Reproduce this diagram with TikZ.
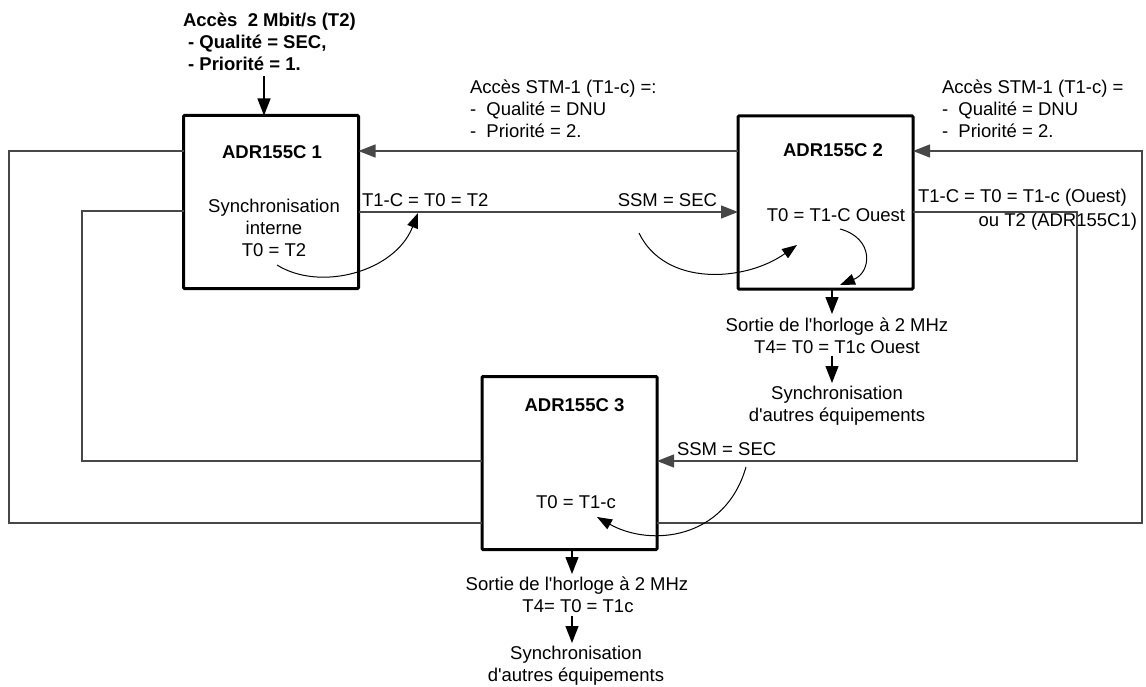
\documentclass[tikz,border=0pt]{standalone}
\usepackage{fontspec}
\setmainfont{Liberation Sans}[Ligatures=TeXOff]
\usetikzlibrary{arrows.meta}
\begin{document}
\begin{tikzpicture}[x=1pt,y=-1pt,
  every node/.style={inner sep=0pt, outer sep=0pt, font=\fontsize{18.5}{22}\selectfont},
  box/.style={draw, line width=3pt, rounded corners=1pt, minimum width=175pt, minimum height=173pt},
  conn/.style={draw=black!72, line width=1.3pt},
  arr/.style={-{Triangle[length=17pt,width=13pt]}},
  curv/.style={draw=black, line width=1pt, -{Triangle[length=15pt,width=11pt]}},
  lb/.style={anchor=base},
  lbw/.style={anchor=base west},
  lbe/.style={anchor=base east},
  bold/.style={font=\fontsize{18.5}{22}\selectfont\bfseries}
]
\useasboundingbox (0,0) rectangle (1146,687);

% boxes
\node[box] (b1) at (271,202) {};
\node[box] (b2) at (825.5,202.5) {};
\node[box] (b3) at (569.5,463) {};

% box texts
\node[lb,bold] (b1t) at (272,159) {ADR155C 1};
\node[lb] (b1s1) at (274,213) {Synchronisation};
\node[lb] (b1s2) at (274,235) {interne};
\node[lb] (b1s3) at (274,257) {T0 = T2};
\node[lb,bold] (b2t) at (833,157) {ADR155C 2};
\node[lb] (b2s) at (836,222) {T0 = T1-C Ouest};
\node[lb,bold] (b3t) at (574.5,411) {ADR155C 3};
\node[lb] (b3s) at (576,508) {T0 = T1-c};

% top-left access text
\node[lbw,bold] (t2a) at (183,27) {Accès\ \ 2 Mbit/s (T2)};
\node[lbw,bold] (t2b) at (183,49) {\ - Qualité = SEC,};
\node[lbw,bold] (t2c) at (183,71) {\ - Priorité = 1.};

% STM-1 texts
\node[lbw] (s1a) at (470,94) {Accès STM-1 (T1-c) =:};
\node[lbw] (s1b) at (470,116) {-\ \ Qualité = DNU};
\node[lbw] (s1c) at (470,138) {-\ \ Priorité = 2.};
\node[lbw] (s2a) at (942,94) {Accès STM-1 (T1-c) =};
\node[lbw] (s2b) at (942,116) {-\ \ Qualité = DNU};
\node[lbw] (s2c) at (942,138) {-\ \ Priorité = 2.};

% link labels
\node[lbw] (l1) at (362,207) {T1-C = T0 = T2};
\node[lbe] (l2) at (717,207) {SSM = SEC};
\node[lbw] (l3) at (918,203) {T1-C = T0 = T1-c (Ouest)};
\node[lbe] (l4) at (1137,227) {ou T2 (ADR155C1)};
\node[lbw] (l5) at (677,455) {SSM = SEC};

% outputs box 2
\node[lb] (o2a) at (837,331) {Sortie de l'horloge à 2 MHz};
\node[lb] (o2b) at (837,353) {T4= T0 = T1c Ouest};
\node[lb] (o2c) at (837,399) {Synchronisation};
\node[lb] (o2d) at (837,421) {d'autres équipements};
% outputs box 3
\node[lb] (o3a) at (577,590) {Sortie de l'horloge à 2 MHz};
\node[lb] (o3b) at (578,612) {T4= T0 = T1c};
\node[lb] (o3c) at (576,659) {Synchronisation};
\node[lb] (o3d) at (576,681) {d'autres équipements};

% loops
\draw[conn] (b1.west |- 0,151) -| (9,523) -- (b3.west |- 0,523);
\draw[conn,arr] (b3.east |- 0,523) -| (1142,151) -- (b2.east |- 0,151);
\draw[conn] (b1.west |- 0,211) -| (82,461) -- (b3.west |- 0,461);
\draw[conn,arr] (b2.east |- 0,212) -| (1077,461) -- (b3.east |- 0,461);
\draw[conn,arr] (b2.west |- 0,151) -- (b1.east |- 0,151);
\draw[conn,arr] (b1.east |- 0,212) -- (b2.west |- 0,212);

% vertical arrows
\coordinate (t2in) at (264,76);
\draw[conn,draw=black,arr] (t2in) -- (t2in |- b1.north);
\coordinate (o2top) at (832,314);
\draw[conn,draw=black,arr] (o2top |- b2.south) -- (o2top);
\coordinate (o2m1) at (832,356);
\coordinate (o2m2) at (832,383);
\draw[conn,draw=black,arr] (o2m1) -- (o2m2);
\coordinate (o3top) at (572,574);
\draw[conn,draw=black,arr] (o3top |- b3.south) -- (o3top);
\coordinate (o3m1) at (572,616);
\coordinate (o3m2) at (572,643);
\draw[conn,draw=black,arr] (o3m1) -- (o3m2);

% curved arrows
\coordinate (c1s) at (277,265);
\coordinate (c1e) at (418,213);
\draw[curv] (c1s) .. controls (320,292) and (395,272) .. (c1e);
\coordinate (c2s) at (639,233);
\coordinate (c2e) at (797,245);
\draw[curv] (c2s) .. controls (665,287) and (745,282) .. (c2e);
\coordinate (c3s) at (840,229);
\coordinate (c3e) at (840,285);
\draw[curv] (c3s) .. controls (874,238) and (872,272) .. (c3e);
\coordinate (c4s) at (746,467);
\coordinate (c4e) at (597,517);
\draw[curv] (c4s) .. controls (725,540) and (650,547) .. (c4e);
\end{tikzpicture}
\end{document}
